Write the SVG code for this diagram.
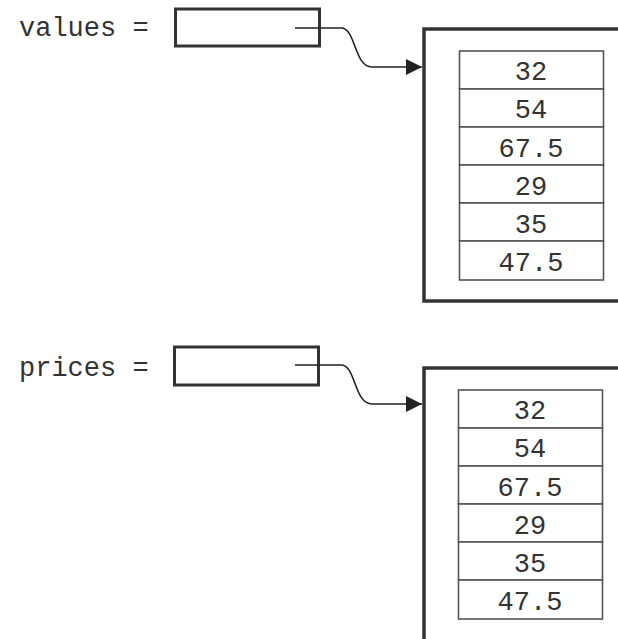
<svg xmlns="http://www.w3.org/2000/svg" width="618" height="639" viewBox="0 0 618 639">
  <style>
    .lbl { font-family: "Liberation Mono", "DejaVu Sans Mono", monospace; font-size: 27px; fill: #333; }
    .num { font-family: "Liberation Mono", "DejaVu Sans Mono", monospace; font-size: 27px; fill: #333; text-anchor: middle; }
    .ref { fill: #fff; stroke: #333; stroke-width: 3; }
    .outer { fill: #fff; stroke: #333; stroke-width: 3.5; }
    .cell { fill: #fff; stroke: #555; stroke-width: 1.6; }
    .conn { fill: none; stroke: #222; stroke-width: 1.6; }
  </style>
  <defs>
    <marker id="arrow" markerUnits="userSpaceOnUse" markerWidth="16" markerHeight="18" refX="16" refY="8" orient="auto">
      <path d="M0,0 L16,8 L0,16 Z" fill="#222"/>
    </marker>
  </defs>

  <g id="values-label">
    <text class="lbl" x="19" y="36">values =</text>
  </g>
  <g id="values-ref">
    <rect class="ref" x="175.5" y="9" width="144" height="37"/>
  </g>
  <g id="values-array">
    <rect class="outer" x="424" y="29" width="220" height="272"/>
    <rect class="cell" x="459.5" y="51" width="144" height="38"/>
    <rect class="cell" x="459.5" y="89" width="144" height="38"/>
    <rect class="cell" x="459.5" y="127" width="144" height="38"/>
    <rect class="cell" x="459.5" y="165" width="144" height="38"/>
    <rect class="cell" x="459.5" y="203" width="144" height="38"/>
    <rect class="cell" x="459.5" y="241" width="144" height="39"/>
    <text class="num" x="531" y="80">32</text>
    <text class="num" x="531" y="118">54</text>
    <text class="num" x="531" y="157">67.5</text>
    <text class="num" x="531" y="195">29</text>
    <text class="num" x="531" y="233">35</text>
    <text class="num" x="531" y="271">47.5</text>
  </g>

  <g id="prices-label">
    <text class="lbl" x="19" y="376">prices =</text>
  </g>
  <g id="prices-ref">
    <rect class="ref" x="174.5" y="347" width="144" height="38"/>
  </g>
  <g id="prices-array">
    <rect class="outer" x="424" y="368" width="220" height="300"/>
    <rect class="cell" x="458.5" y="390" width="144" height="38"/>
    <rect class="cell" x="458.5" y="428" width="144" height="38"/>
    <rect class="cell" x="458.5" y="466" width="144" height="38"/>
    <rect class="cell" x="458.5" y="504" width="144" height="38"/>
    <rect class="cell" x="458.5" y="542" width="144" height="38"/>
    <rect class="cell" x="458.5" y="580" width="144" height="39"/>
    <text class="num" x="530" y="419">32</text>
    <text class="num" x="530" y="457">54</text>
    <text class="num" x="530" y="496">67.5</text>
    <text class="num" x="530" y="534">29</text>
    <text class="num" x="530" y="572">35</text>
    <text class="num" x="530" y="610">47.5</text>
  </g>

  <g id="connectors">
    <path class="conn" d="M295,28 H341 C356,28 354,67 372,67 H422" marker-end="url(#arrow)"/>
    <path class="conn" d="M295,365 H341 C356,365 354,404 372,404 H422" marker-end="url(#arrow)"/>
  </g>
</svg>
